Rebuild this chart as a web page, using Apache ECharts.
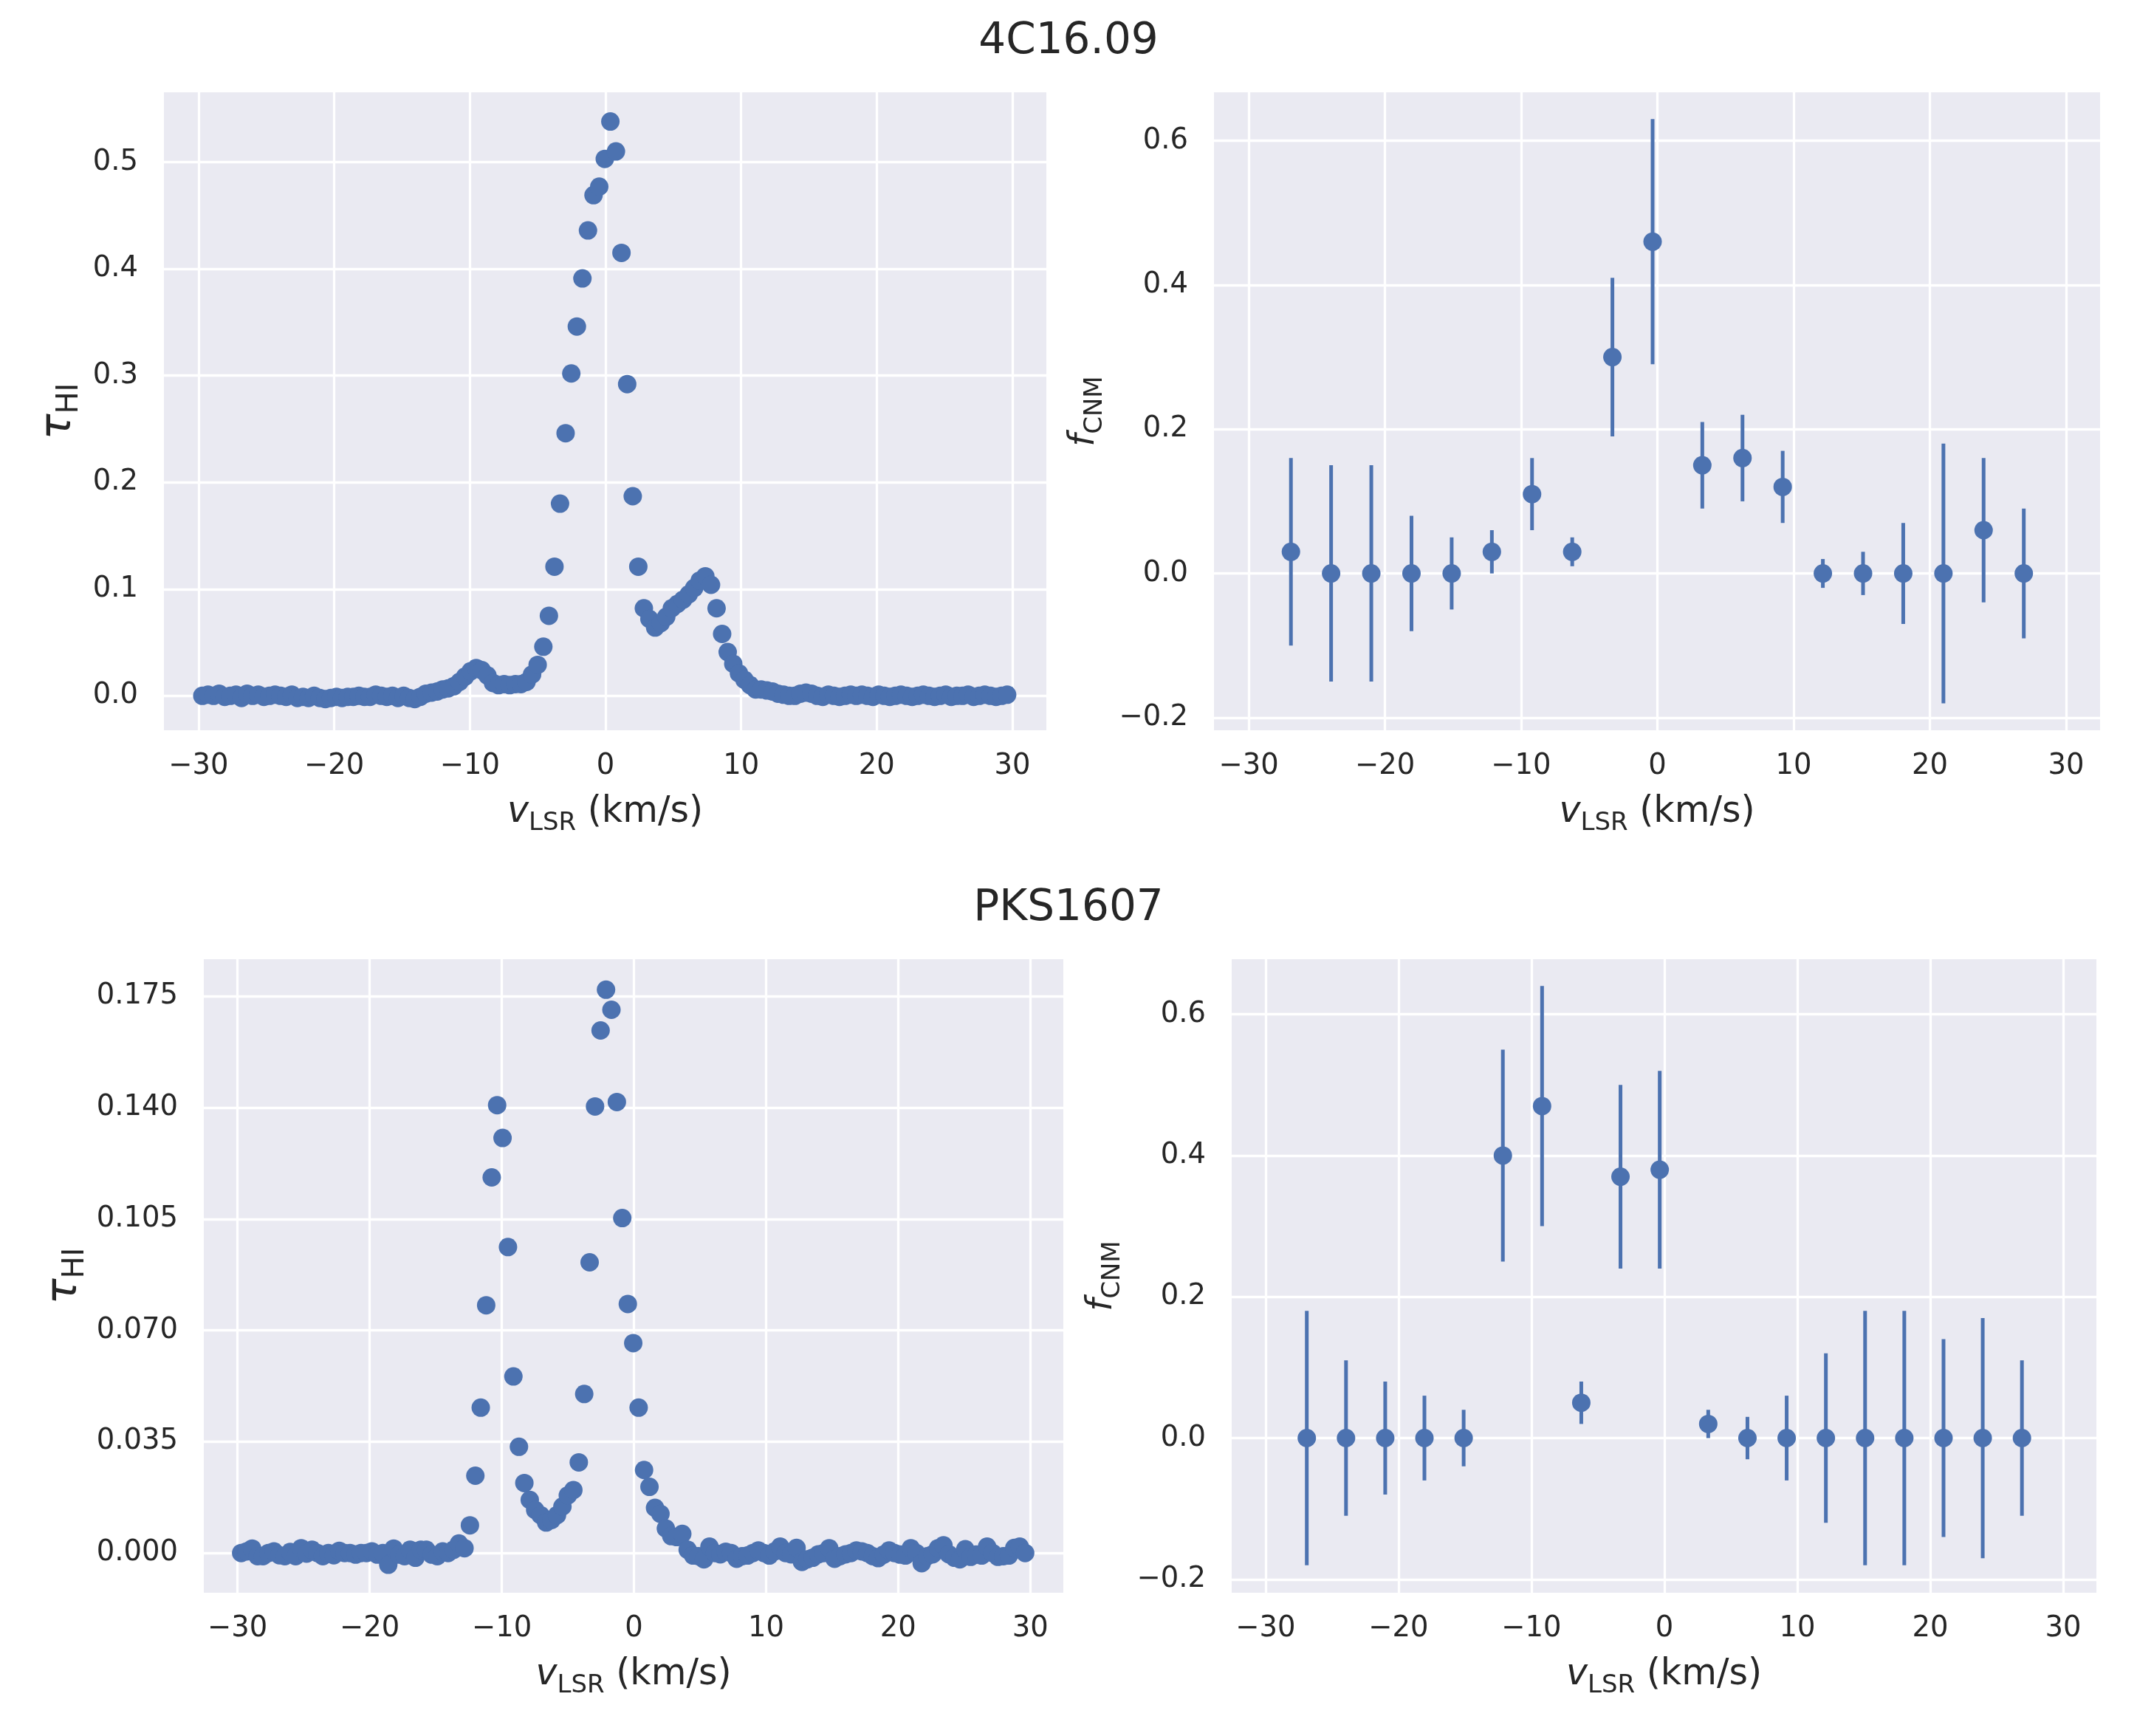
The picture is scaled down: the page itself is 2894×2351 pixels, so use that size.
<!DOCTYPE html>
<html>
<head>
<meta charset="utf-8">
<script src="https://cdn.jsdelivr.net/npm/echarts@6/dist/echarts.min.js"></script>
<style>html,body{margin:0;padding:0;background:#fff;}#c{width:2894px;height:2351px;}</style>
</head>
<body>
<div id="c"></div>
<script>
// ---------- data ----------
const velocity = [
-29.72,-29.30,-28.89,-28.48,-28.07,-27.66,-27.24,-26.83,-26.42,-26.01,
-25.60,-25.18,-24.77,-24.36,-23.95,-23.54,-23.12,-22.71,-22.30,-21.89,
-21.48,-21.06,-20.65,-20.24,-19.83,-19.42,-19.00,-18.59,-18.18,-17.77,
-17.36,-16.94,-16.53,-16.12,-15.71,-15.30,-14.88,-14.47,-14.06,-13.65,
-13.24,-12.82,-12.41,-12.00,-11.59,-11.18,-10.76,-10.35,-9.94,-9.53,
-9.12,-8.70,-8.29,-7.88,-7.47,-7.06,-6.64,-6.23,-5.82,-5.41,
-5.00,-4.58,-4.17,-3.76,-3.35,-2.94,-2.52,-2.11,-1.70,-1.29,
-0.88,-0.46,-0.05,0.36,0.77,1.18,1.60,2.01,2.42,2.83,
3.24,3.66,4.07,4.48,4.89,5.30,5.72,6.13,6.54,6.95,
7.36,7.78,8.19,8.60,9.01,9.42,9.84,10.25,10.66,11.07,
11.48,11.90,12.31,12.72,13.13,13.54,13.96,14.37,14.78,15.19,
15.60,16.02,16.43,16.84,17.25,17.66,18.08,18.49,18.90,19.31,
19.72,20.14,20.55,20.96,21.37,21.78,22.20,22.61,23.02,23.43,
23.84,24.26,24.67,25.08,25.49,25.90,26.32,26.73,27.14,27.55,
27.96,28.38,28.79,29.20,29.61
];
const tau4C16 = [
0.000,0.001,0.000,0.002,-0.001,0.000,0.001,-0.002,0.002,0.000,
0.001,-0.001,0.000,0.001,0.000,-0.001,0.001,-0.002,-0.001,-0.002,
0.000,-0.002,-0.003,-0.002,-0.001,-0.002,-0.001,-0.001,0.000,-0.001,
-0.001,0.001,0.000,-0.001,0.000,-0.002,0.000,-0.002,-0.003,-0.001,
0.002,0.003,0.004,0.006,0.007,0.009,0.013,0.018,0.023,0.026,
0.024,0.019,0.012,0.010,0.011,0.010,0.011,0.011,0.013,0.020,
0.029,0.046,0.075,0.121,0.180,0.246,0.302,0.346,0.391,0.436,
0.469,0.477,0.503,0.538,0.510,0.415,0.292,0.187,0.121,0.082,
0.072,0.064,0.068,0.074,0.082,0.086,0.090,0.095,0.101,0.108,
0.112,0.104,0.082,0.058,0.041,0.030,0.021,0.015,0.010,0.006,
0.006,0.005,0.004,0.002,0.001,0.000,0.000,0.002,0.003,0.002,
0.000,-0.001,0.001,0.000,-0.001,0.000,0.001,0.000,0.001,0.000,
-0.001,0.001,0.000,-0.001,0.000,0.001,0.000,-0.001,0.000,0.001,
0.000,-0.001,0.000,0.001,-0.001,0.000,0.000,0.001,-0.001,0.000,
0.001,0.000,-0.001,0.000,0.001
];
const tauPKS1607 = [
0.000,0.0005,0.0014,-0.001,-0.001,0.000,0.0005,-0.0007,-0.001,0.0003,
-0.001,0.0015,-0.0002,0.001,0.000,-0.001,0.000,-0.0007,0.0007,0.000,
0.000,-0.0005,0.000,0.000,0.0005,-0.0005,0.000,-0.0037,0.0014,-0.0005,
-0.001,0.001,-0.0015,0.001,0.001,-0.0005,-0.001,0.0005,0.000,0.001,
0.003,0.0015,0.0087,0.0243,0.0457,0.0779,0.1181,0.1408,0.1305,0.0962,
0.0555,0.0334,0.0220,0.0167,0.0135,0.0119,0.0096,0.0104,0.0119,0.0146,
0.0181,0.0198,0.0285,0.0500,0.0914,0.1404,0.1643,0.1771,0.1708,0.1418,
0.1053,0.0783,0.0660,0.0457,0.0261,0.0208,0.0142,0.0123,0.0077,0.0053,
0.005,0.006,0.001,-0.0008,-0.001,-0.002,0.002,0.000,-0.0004,0.0004,
0.000,-0.0018,-0.001,-0.0008,0.000,0.0008,0.000,-0.0008,0.0005,0.002,
0.000,-0.0004,0.0016,-0.0028,-0.002,-0.0015,-0.0004,0.000,0.0015,-0.0018,
-0.001,-0.0004,0.000,0.0008,0.0005,0.000,-0.001,-0.0016,-0.0005,0.0008,
0.000,-0.0005,-0.0008,0.0015,0.000,-0.0032,-0.001,-0.0004,0.0015,0.0024,
-0.0004,-0.0015,-0.002,0.0012,-0.0012,-0.0005,-0.0008,0.002,0.000,-0.0012,
-0.001,-0.0008,0.0016,0.002,0.000
];
const binVelocity = [-26.9,-23.95,-21.0,-18.05,-15.1,-12.15,-9.2,-6.25,-3.3,-0.35,3.3,6.25,9.2,12.15,15.1,18.05,21.0,23.95,26.9];
const fcnm4C16 = [0.03,0,0,0,0,0.03,0.11,0.03,0.30,0.46,0.15,0.16,0.12,0,0,0,0,0.06,0];
const fcnmErr4C16 = [0.13,0.15,0.15,0.08,0.05,0.03,0.05,0.02,0.11,0.17,0.06,0.06,0.05,0.02,0.03,0.07,0.18,0.10,0.09];
const fcnmPKS1607 = [0,0,0,0,0,0.40,0.47,0.05,0.37,0.38,0.02,0,0,0,0,0,0,0,0];
const fcnmErrPKS1607 = [0.18,0.11,0.08,0.06,0.04,0.15,0.17,0.03,0.13,0.14,0.02,0.03,0.06,0.12,0.18,0.18,0.14,0.17,0.11];

const xTicks = [-30,-20,-10,0,10,20,30];
const yTicksTau4C16 = [0.0,0.1,0.2,0.3,0.4,0.5];
const yTicksTauPKS1607 = [0.000,0.035,0.070,0.105,0.140,0.175];
const yTicksF = [-0.2,0.0,0.2,0.4,0.6];
const titles = ['4C16.09','PKS1607'];

// ---------- style ----------
const FONT = "'DejaVu Sans', sans-serif";
const TXT = '#262626';
const BLUE = '#4C72B0';
const BG = '#EAEAF2';
const TICK_FS = 38.5;
const minus = s => s.replace('-', '\u2212');

const grids = [
  {left:222, top:125, width:1195, height:864},
  {left:1644, top:125, width:1200, height:864},
  {left:276, top:1299, width:1164, height:858},
  {left:1668, top:1299, width:1171, height:858}
].map(g => Object.assign({show:true, backgroundColor:BG, borderWidth:0, containLabel:false}, g));

const subRich = (mainSize, subSize, pad) => ({
  m: {fontSize: mainSize, fontStyle:'italic', fontFamily: FONT, color: TXT},
  s: {fontSize: subSize, padding:[pad,0,0,0], fontFamily: FONT, color: TXT},
  n: {fontSize: mainSize, fontFamily: FONT, color: TXT}
});

function xAxisFor(gi){
  return {
    type:'value', gridIndex: gi, min:-32.55, max:32.5,
    axisLine:{show:false},
    axisTick:{show:false, customValues: xTicks},
    splitLine:{show:true, lineStyle:{color:'#ffffff', width:3.3}},
    axisLabel:{customValues: xTicks, fontSize:TICK_FS, color:TXT, fontFamily:FONT, margin:29,
      formatter: v => minus(String(v))},
    name:'{m|v}{s|LSR}{n| (km/s)}', nameLocation:'middle', nameGap:80,
    nameTextStyle:{fontSize:49, fontFamily:FONT, color:TXT, rich: subRich(49, 34, 29)}
  };
}
function yAxisFor(gi, min, max, ticks, dec, name, mainSize, subSize, pad, gap){
  return {
    type:'value', gridIndex: gi, min:min, max:max,
    axisLine:{show:false},
    axisTick:{show:false, customValues: ticks},
    splitLine:{show:true, lineStyle:{color:'#ffffff', width:3.3}},
    axisLabel:{customValues: ticks, fontSize:TICK_FS, color:TXT, fontFamily:FONT, margin:35,
      formatter: v => minus(v.toFixed(dec))},
    name: name, nameLocation:'middle', nameRotate:90, nameGap: gap,
    nameTextStyle:{fontSize:mainSize, fontFamily:FONT, color:TXT, rich: subRich(mainSize, subSize, pad)}
  };
}

const tauName = '{m|τ}{s|HI}';
const fName = '{m|f}{s|CNM}';

function errSeries(gi, xs, ys, es){
  return {
    type:'custom', xAxisIndex:gi, yAxisIndex:gi, silent:true, z:2,
    encode:{x:0, y:1},
    data: xs.map((x,i)=>[x, ys[i], es[i]]),
    renderItem:(params, api)=>{
      const x = api.value(0), y = api.value(1), e = api.value(2);
      const p1 = api.coord([x, y - e]);
      const p2 = api.coord([x, y + e]);
      return {type:'line', shape:{x1:p1[0], y1:p1[1], x2:p2[0], y2:p2[1]},
              style:{stroke:BLUE, lineWidth:5, lineCap:'butt'}};
    }
  };
}
function dotSeries(gi, xs, ys){
  return {
    type:'scatter', xAxisIndex:gi, yAxisIndex:gi, silent:true, z:3,
    symbol:'circle', symbolSize:25,
    itemStyle:{color:BLUE, opacity:1},
    data: xs.map((x,i)=>[x, ys[i]])
  };
}

const option = {
  animation:false,
  backgroundColor:'#ffffff',
  title:[
    {text:titles[0], left:'center', top:28, padding:0, textStyle:{fontSize:58, fontWeight:'normal', color:TXT, fontFamily:FONT}},
    {text:titles[1], left:'center', top:1202, padding:0, textStyle:{fontSize:58, fontWeight:'normal', color:TXT, fontFamily:FONT}}
  ],
  grid: grids,
  xAxis:[xAxisFor(0), xAxisFor(1), xAxisFor(2), xAxisFor(3)],
  yAxis:[
    yAxisFor(0, -0.0323, 0.5654, yTicksTau4C16, 1, tauName, 58, 40, 30, 107),
    yAxisFor(1, -0.2175, 0.6672, yTicksF, 1, fName, 48, 34, 28, 144),
    yAxisFor(2, -0.0125, 0.1867, yTicksTauPKS1607, 3, tauName, 58, 40, 30, 153),
    yAxisFor(3, -0.219, 0.678, yTicksF, 1, fName, 48, 34, 28, 144)
  ],
  series:[
    dotSeries(0, velocity, tau4C16),
    errSeries(1, binVelocity, fcnm4C16, fcnmErr4C16),
    dotSeries(1, binVelocity, fcnm4C16),
    dotSeries(2, velocity, tauPKS1607),
    errSeries(3, binVelocity, fcnmPKS1607, fcnmErrPKS1607),
    dotSeries(3, binVelocity, fcnmPKS1607)
  ]
};
const chart = echarts.init(document.getElementById('c'), null, {renderer:'canvas'});
chart.setOption(option);
</script>
</body>
</html>
